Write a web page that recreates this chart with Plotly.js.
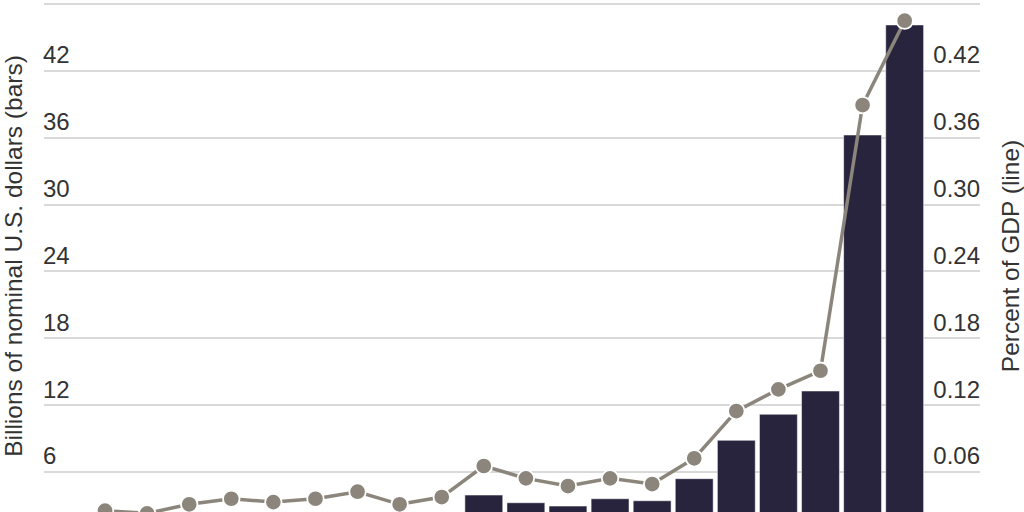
<!DOCTYPE html>
<html>
<head>
<meta charset="utf-8">
<script src="https://cdn.plot.ly/plotly-3.0.1.min.js"></script>
<style>
html,body{margin:0;padding:0;background:#fff;overflow:hidden;}
#chart{width:1024px;height:512px;}
</style>
</head>
<body>
<div id="chart"></div>
<script>
// Categories (x-axis labels are cropped out of the reference; years assumed)
const years = ['1981','1982','1983','1984','1985','1986','1987','1988','1989','1990',
               '1991','1992','1993','1994','1995','1996','1997','1998','1999','2000'];
// Billions of nominal U.S. dollars (bars)
const billions = [0.85, 0.77, 1.12, 1.40, 1.39, 1.62, 2.07, 1.61, 2.10, 3.93,
                  3.24, 2.94, 3.60, 3.42, 5.40, 8.84, 11.18, 13.27, 36.25, 46.13];
// Percent of GDP (line)
const pctGDP = [0.0253, 0.0229, 0.0310, 0.0360, 0.0330, 0.0360, 0.0423, 0.0310, 0.0375, 0.0654,
                0.0543, 0.0474, 0.0543, 0.0492, 0.0723, 0.1147, 0.1342, 0.1509, 0.3894, 0.4651];
const leftTitle = 'Billions of nominal U.S. dollars (bars)';
const rightTitle = 'Percent of GDP (line)';

const FONT = '"Liberation Sans", Arial, sans-serif';
const TXT = '#333333';

const traces = [
  {
    type: 'bar', x: years, y: billions, yaxis: 'y',
    marker: {color: '#29243d', line: {color: '#ffffff', width: 0.5}},
    hoverinfo: 'skip', showlegend: false
  },
  {
    type: 'scatter', mode: 'lines+markers', x: years, y: pctGDP, yaxis: 'y2',
    line: {color: '#8c857b', width: 3.5},
    marker: {color: '#8c857b', size: 16.5, line: {color: '#ffffff', width: 1.8}},
    hoverinfo: 'skip', showlegend: false
  }
];

const layout = {
  width: 1024, height: 512,
  margin: {l: 44, r: 44, t: 0, b: 0, pad: 0},
  paper_bgcolor: '#ffffff', plot_bgcolor: '#ffffff',
  font: {family: FONT, color: TXT, size: 18},
  bargap: 0.1,
  xaxis: {
    type: 'category', range: [-1.45, 20.79],
    showticklabels: false, showgrid: false, zeroline: false, showline: false, ticks: ''
  },
  yaxis: {
    range: [2.41, 48.37], tick0: 0, dtick: 6,
    showgrid: true, gridcolor: '#d9d9d9', gridwidth: 2,
    zeroline: false, showline: false, ticks: '',
    ticklabelposition: 'inside', ticklabelshift: -16, ticklabelstandoff: -4,
    tickfont: {family: FONT, color: TXT, size: 24},
    title: {text: leftTitle, font: {family: FONT, color: TXT, size: 24.5}, standoff: 22},
    automargin: false
  },
  yaxis2: {
    overlaying: 'y', side: 'right',
    range: [0.0241, 0.4837], tick0: 0, dtick: 0.06, tickformat: '.2f',
    showgrid: false, zeroline: false, showline: false, ticks: '',
    ticklabelposition: 'inside', ticklabelshift: -16, ticklabelstandoff: -3,
    tickfont: {family: FONT, color: TXT, size: 24},
    title: {text: rightTitle, font: {family: FONT, color: TXT, size: 24.5}, standoff: 22},
    automargin: false
  }
};

Plotly.newPlot('chart', traces, layout, {staticPlot: true, displayModeBar: false});
</script>
</body>
</html>
